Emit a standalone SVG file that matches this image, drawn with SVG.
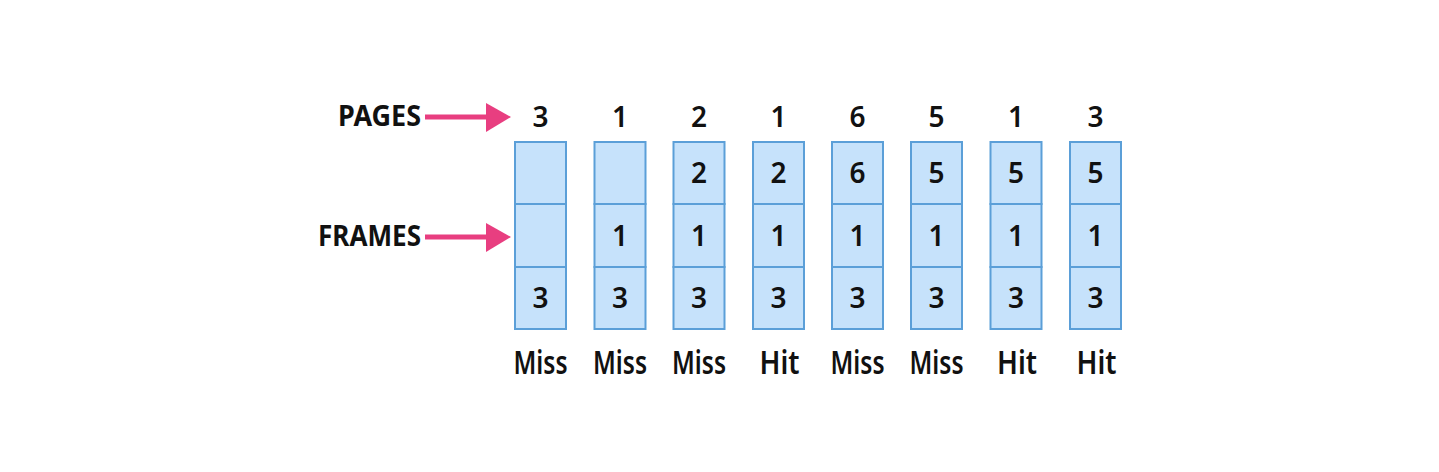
<svg xmlns="http://www.w3.org/2000/svg" width="1439" height="472" viewBox="0 0 1439 472">
<style>
.cell{fill:#c6e2fb;stroke:#5b9fd8;stroke-width:2}
.t{font-family:"Noto Sans","DejaVu Sans",sans-serif;font-weight:600;fill:#111;text-anchor:middle}
.d{font-size:28px}
.r{font-size:32px}
.lbl{font-family:"Noto Sans","DejaVu Sans",sans-serif;font-weight:700;font-size:28px;fill:#111;text-anchor:end}
.arr{stroke:#e83e80;stroke-width:5;fill:none}
.ah{fill:#e83e80}
</style>
<rect width="1439" height="472" fill="#fff"/>
<g id="labels">
<text class="lbl" x="421" y="126" textLength="83" lengthAdjust="spacingAndGlyphs">PAGES</text>
<text class="lbl" x="421" y="246" textLength="103" lengthAdjust="spacingAndGlyphs">FRAMES</text>
</g>
<g id="connectors">
<line class="arr" x1="425" y1="117" x2="490" y2="117"/>
<polygon class="ah" points="486,103 511,117 486,132"/>
<line class="arr" x1="425" y1="237" x2="490" y2="237"/>
<polygon class="ah" points="486,223 511,237 486,252"/>
</g>
<g id="col1">
<text class="t d" x="540.5" y="127">3</text>
<rect class="cell" x="515" y="142" width="51" height="62"/>
<rect class="cell" x="515" y="204" width="51" height="63"/>
<rect class="cell" x="515" y="267" width="51" height="62"/>
<text class="t d" x="540.5" y="308">3</text>
<text class="t r" x="540.5" y="374" textLength="54" lengthAdjust="spacingAndGlyphs">Miss</text>
</g>
<g id="col2">
<text class="t d" x="620" y="127">1</text>
<rect class="cell" x="594.5" y="142" width="51" height="62"/>
<rect class="cell" x="594.5" y="204" width="51" height="63"/>
<rect class="cell" x="594.5" y="267" width="51" height="62"/>
<text class="t d" x="620" y="246">1</text>
<text class="t d" x="620" y="308">3</text>
<text class="t r" x="620" y="374" textLength="54" lengthAdjust="spacingAndGlyphs">Miss</text>
</g>
<g id="col3">
<text class="t d" x="699" y="127">2</text>
<rect class="cell" x="673.5" y="142" width="51" height="62"/>
<rect class="cell" x="673.5" y="204" width="51" height="63"/>
<rect class="cell" x="673.5" y="267" width="51" height="62"/>
<text class="t d" x="699" y="183">2</text>
<text class="t d" x="699" y="246">1</text>
<text class="t d" x="699" y="308">3</text>
<text class="t r" x="699" y="374" textLength="54" lengthAdjust="spacingAndGlyphs">Miss</text>
</g>
<g id="col4">
<text class="t d" x="778.5" y="127">1</text>
<rect class="cell" x="753" y="142" width="51" height="62"/>
<rect class="cell" x="753" y="204" width="51" height="63"/>
<rect class="cell" x="753" y="267" width="51" height="62"/>
<text class="t d" x="778.5" y="183">2</text>
<text class="t d" x="778.5" y="246">1</text>
<text class="t d" x="778.5" y="308">3</text>
<text class="t r" x="779.5" y="374" textLength="40" lengthAdjust="spacingAndGlyphs">Hit</text>
</g>
<g id="col5">
<text class="t d" x="857.5" y="127">6</text>
<rect class="cell" x="832" y="142" width="51" height="62"/>
<rect class="cell" x="832" y="204" width="51" height="63"/>
<rect class="cell" x="832" y="267" width="51" height="62"/>
<text class="t d" x="857.5" y="183">6</text>
<text class="t d" x="857.5" y="246">1</text>
<text class="t d" x="857.5" y="308">3</text>
<text class="t r" x="857.5" y="374" textLength="54" lengthAdjust="spacingAndGlyphs">Miss</text>
</g>
<g id="col6">
<text class="t d" x="936.5" y="127">5</text>
<rect class="cell" x="911" y="142" width="51" height="62"/>
<rect class="cell" x="911" y="204" width="51" height="63"/>
<rect class="cell" x="911" y="267" width="51" height="62"/>
<text class="t d" x="936.5" y="183">5</text>
<text class="t d" x="936.5" y="246">1</text>
<text class="t d" x="936.5" y="308">3</text>
<text class="t r" x="936.5" y="374" textLength="54" lengthAdjust="spacingAndGlyphs">Miss</text>
</g>
<g id="col7">
<text class="t d" x="1016" y="127">1</text>
<rect class="cell" x="990.5" y="142" width="51" height="62"/>
<rect class="cell" x="990.5" y="204" width="51" height="63"/>
<rect class="cell" x="990.5" y="267" width="51" height="62"/>
<text class="t d" x="1016" y="183">5</text>
<text class="t d" x="1016" y="246">1</text>
<text class="t d" x="1016" y="308">3</text>
<text class="t r" x="1017" y="374" textLength="40" lengthAdjust="spacingAndGlyphs">Hit</text>
</g>
<g id="col8">
<text class="t d" x="1095.5" y="127">3</text>
<rect class="cell" x="1070" y="142" width="51" height="62"/>
<rect class="cell" x="1070" y="204" width="51" height="63"/>
<rect class="cell" x="1070" y="267" width="51" height="62"/>
<text class="t d" x="1095.5" y="183">5</text>
<text class="t d" x="1095.5" y="246">1</text>
<text class="t d" x="1095.5" y="308">3</text>
<text class="t r" x="1096.5" y="374" textLength="40" lengthAdjust="spacingAndGlyphs">Hit</text>
</g>
</svg>
